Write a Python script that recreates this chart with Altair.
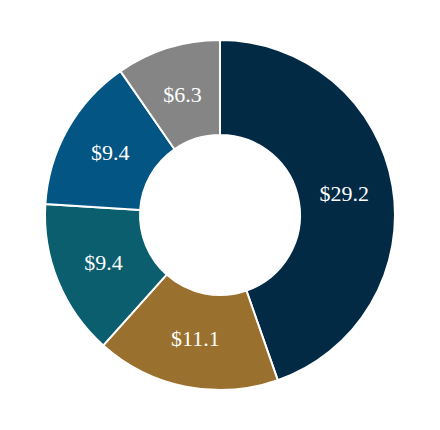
import altair as alt
import pandas as pd

labels = ["$29.2", "$11.1", "$9.4", "$9.4", "$6.3"]
values = [29.2, 11.1, 9.4, 9.4, 6.3]
order = [0, 1, 2, 3, 4]
colors = ["#022a45", "#9a702e", "#0a5e6e", "#035584", "#858585"]

df = pd.DataFrame({"label": labels, "value": values, "order": order, "key": [str(i) for i in order]})

base = alt.Chart(df).encode(
    theta=alt.Theta("value:Q", stack=True),
    order=alt.Order("order:Q"),
)

arcs = base.mark_arc(radius=175, radius2=80, stroke="white", strokeWidth=2).encode(
    color=alt.Color("key:N", scale=alt.Scale(domain=[str(i) for i in order], range=colors), legend=None)
)

text = base.mark_text(radius=126, font="Liberation Serif", fontSize=22, color="white").encode(
    text="label:N"
)

chart = (arcs + text).properties(width=424, height=414, padding=0, background="white").configure_view(stroke=None)

chart.save("out.html", embed_options={"renderer": "svg", "actions": False})
